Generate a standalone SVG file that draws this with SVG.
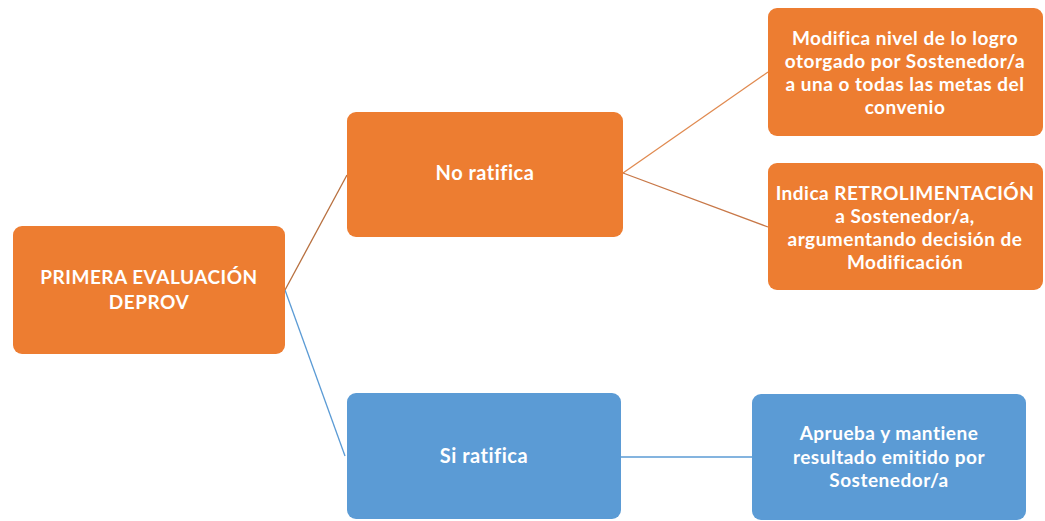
<svg xmlns="http://www.w3.org/2000/svg" width="1045" height="521" viewBox="0 0 1045 521">
<style>
.o{fill:#ED7D31}
.b{fill:#5B9BD5}
text{font-family:Lato,"Open Sans","Liberation Sans",sans-serif;font-weight:bold;font-size:19px;letter-spacing:0.5px;fill:#fff;text-anchor:middle}
.big{font-size:20px}
.c{fill:none;stroke-width:1.3}
</style>
<rect width="1045" height="521" fill="#fff"/>
<g id="connectors">
<line class="c" x1="285" y1="290" x2="347" y2="175" stroke="#B8703F"/>
<line class="c" x1="285" y1="290" x2="345" y2="456" stroke="#5B9BD5"/>
<line class="c" x1="623" y1="173" x2="768" y2="72" stroke="#E08A50"/>
<line class="c" x1="623" y1="173" x2="768" y2="227" stroke="#C87848"/>
<line class="c" x1="621" y1="457" x2="752" y2="457" stroke="#5B9BD5"/>
</g>
<g id="primera">
<rect class="o" x="13" y="226" width="272" height="128" rx="9"/>
<text x="149" y="284">PRIMERA EVALUACIÓN</text>
<text x="149" y="309">DEPROV</text>
</g>
<g id="no-ratifica">
<rect class="o" x="347" y="112" width="276" height="125" rx="9"/>
<text class="big" x="485" y="180">No ratifica</text>
</g>
<g id="si-ratifica">
<rect class="b" x="347" y="393" width="274" height="126" rx="9"/>
<text class="big" x="484" y="463">Si ratifica</text>
</g>
<g id="modifica">
<rect class="o" x="768" y="8" width="275" height="128" rx="9"/>
<text x="905" y="45">Modifica nivel de lo logro</text>
<text x="905" y="68">otorgado por Sostenedor/a</text>
<text x="905" y="91">a una o  todas las metas del</text>
<text x="905" y="114">convenio</text>
</g>
<g id="indica">
<rect class="o" x="768" y="163" width="275" height="127" rx="9"/>
<text x="905" y="200">Indica RETROLIMENTACIÓN</text>
<text x="905" y="223">a Sostenedor/a,</text>
<text x="905" y="246">argumentando decisión de</text>
<text x="905" y="269">Modificación</text>
</g>
<g id="aprueba">
<rect class="b" x="752" y="394" width="274" height="126" rx="9"/>
<text x="889" y="440">Aprueba y mantiene</text>
<text x="889" y="464">resultado emitido por</text>
<text x="889" y="487">Sostenedor/a</text>
</g>
</svg>
